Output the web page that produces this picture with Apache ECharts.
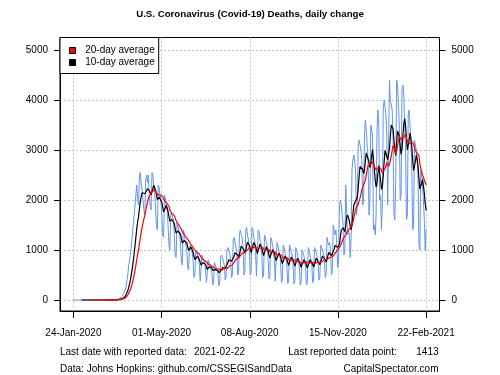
<!DOCTYPE html>
<html>
<head>
<meta charset="UTF-8">
<title>U.S. Coronavirus (Covid-19) Deaths, daily change</title>
<script src="https://cdn.jsdelivr.net/npm/echarts@6/dist/echarts.min.js"></script>
<style>
  html, body { margin: 0; padding: 0; background: #fff; }
  #chart { width: 500px; height: 375px; }
</style>
</head>
<body>
<div id="chart"></div>
<script>
// daily change in deaths, one value per day from 24-Jan-2020 (a Friday) to 22-Feb-2021
// one row per week, Fri..Thu
var deaths = [
  0, 0, 0, 0, 0, 0, 0,
  0, 0, 0, 0, 0, 0, 0,
  0, 0, 0, 0, 0, 0, 0,
  0, 0, 0, 0, 0, 0, 0,
  0, 0, 0, 0, 0, 0, 0,
  0, 1, 1, 4, 1, 4, 1,
  2, 3, 4, 4, 6, 8, 7,
  10, 15, 20, 30, 45, 65, 90,
  120, 160, 200, 280, 380, 520, 700,
  800, 950, 1100, 1300, 1500, 1700, 1900,
  2100, 2300, 2000, 1900, 2500, 2550, 2300,
  2200, 2000, 1800, 1700, 2400, 2500, 2350,
  2500, 2100, 1900, 1800, 2550, 2500, 2300,
  2200, 1800, 1500, 1400, 2300, 2250, 2100,
  2000, 1700, 1300, 1250, 2100, 2050, 1900,
  1800, 1500, 1100, 1000, 1700, 1750, 1650,
  1600, 1300, 900, 850, 1550, 1500, 1400,
  1300, 1100, 750, 700, 1400, 1350, 1200,
  1200, 1000, 650, 600, 1050, 1100, 1000,
  950, 800, 450, 500, 1000, 1000, 900,
  850, 700, 380, 400, 900, 850, 800,
  750, 600, 350, 380, 800, 800, 700,
  700, 550, 300, 350, 750, 750, 650,
  600, 500, 280, 380, 850, 900, 850,
  850, 700, 400, 450, 1000, 1050, 1000,
  1000, 850, 450, 500, 1200, 1250, 1150,
  1150, 950, 500, 550, 1350, 1400, 1300,
  1250, 1050, 500, 550, 1400, 1450, 1300,
  1200, 1000, 500, 550, 1450, 1400, 1250,
  1200, 950, 480, 520, 1400, 1350, 1200,
  1150, 900, 450, 500, 1300, 1250, 1150,
  1100, 850, 420, 470, 1250, 1200, 1100,
  1000, 800, 380, 400, 1150, 1100, 1000,
  950, 750, 350, 400, 1100, 1050, 950,
  950, 700, 330, 380, 1100, 1050, 950,
  900, 700, 320, 370, 1050, 1000, 900,
  900, 650, 300, 350, 1000, 1000, 900,
  900, 650, 300, 350, 1050, 1000, 900,
  900, 700, 350, 400, 1050, 1050, 950,
  950, 750, 400, 450, 1100, 1100, 1000,
  1000, 850, 450, 500, 1250, 1150, 1100,
  1150, 950, 500, 600, 1500, 1400, 1300,
  1400, 1100, 650, 800, 1900, 2000, 1900,
  1900, 1500, 900, 1000, 2300, 2300, 1300,
  1400, 1300, 850, 1200, 2600, 2800, 2900,
  2800, 2600, 1700, 1900, 3100, 3200, 3100,
  3000, 2800, 1900, 2000, 3300, 3600, 3400,
  3100, 2800, 1700, 1900, 3500, 3500, 3300,
  1400, 1500, 1300, 1700, 3400, 3800, 3500,
  2000, 2100, 1400, 1900, 3800, 4000, 4000,
  3700, 3300, 1900, 1900, 4400, 4000, 4000,
  3800, 3200, 1700, 1600, 2400, 4400, 4300,
  3900, 3500, 2000, 2100, 4200, 4300, 4100,
  3500, 3000, 1600, 1700, 3700, 3800, 3500,
  3100, 2600, 1400, 1500, 3200, 3200, 3000,
  2800, 2400, 1100, 1000, 2600, 2500, 2300,
  2000, 1600, 1000, 1413
];

var tickDays = [0, 98.75, 197.5, 296.25, 395];
var tickLabels = ['24-Jan-2020', '01-May-2020', '08-Aug-2020', '15-Nov-2020', '22-Feb-2021'];
var yTicks = [0, 1000, 2000, 3000, 4000, 5000];
var lastDate = '2021-02-22';

var FONT = 'Liberation Sans';

// trailing moving average
function rolling(arr, n) {
  var out = [];
  for (var i = n - 1; i < arr.length; i++) {
    var s = 0;
    for (var j = i - n + 1; j <= i; j++) s += arr[j];
    out.push([i, s / n]);
  }
  return out;
}

var daily = deaths.map(function (v, i) { return [i, v]; });
var avg20 = rolling(deaths, 20);
var avg10 = rolling(deaths, 10);

function yAxisCfg(pos) {
  return {
    type: 'value',
    position: pos,
    min: -220,
    max: 5250,
    axisLine: { show: true, onZero: false, lineStyle: { color: '#000', width: 1 } },
    axisTick: { show: true, length: 6, customValues: yTicks, lineStyle: { color: '#000' } },
    axisLabel: {
      customValues: yTicks, margin: 12, color: '#000',
      fontFamily: FONT, fontSize: 10,
      formatter: function (v) { return String(v); }
    },
    splitLine: {
      show: pos === 'left',
      lineStyle: { color: '#c4c4c4', type: [2, 2], width: 1 }
    }
  };
}

var chart = echarts.init(document.getElementById('chart'));

var option = {
  animation: false,
  backgroundColor: '#fff',
  title: {
    text: 'U.S. Coronavirus (Covid-19) Deaths, daily change',
    left: 'center',
    top: 4,
    textStyle: { fontFamily: FONT, fontSize: 9.7, fontWeight: 'bold', color: '#000' }
  },
  grid: {
    left: 60, right: 60.5, top: 37.5, bottom: 64,
    show: true, borderColor: '#000', borderWidth: 1, backgroundColor: 'transparent'
  },
  legend: {
    orient: 'vertical',
    left: 60, top: 37.5,
    backgroundColor: '#fff',
    borderColor: '#000', borderWidth: 1, borderRadius: 0,
    padding: [7, 4, 5, 9],
    itemWidth: 6, itemHeight: 6, itemGap: 0,
    textStyle: { fontFamily: FONT, fontSize: 10, color: '#000', lineHeight: 12, padding: [0, 0, 0, 4.7] },
    data: [
      { name: '20-day average', icon: 'rect', itemStyle: { color: '#ff0000', borderColor: '#000', borderWidth: 1 } },
      { name: '10-day average', icon: 'rect', itemStyle: { color: '#000000', borderColor: '#000', borderWidth: 1 } }
    ]
  },
  xAxis: {
    type: 'value',
    min: -15, max: 410,
    axisLine: { show: true, onZero: false, lineStyle: { color: '#000', width: 1 } },
    axisTick: { show: true, length: 7, customValues: tickDays, lineStyle: { color: '#000' } },
    axisLabel: {
      customValues: tickDays, margin: 17, color: '#000',
      fontFamily: FONT, fontSize: 10,
      formatter: function (v) {
        for (var i = 0; i < tickDays.length; i++) {
          if (Math.abs(tickDays[i] - v) < 0.01) return tickLabels[i];
        }
        return '';
      }
    },
    splitLine: { show: true, lineStyle: { color: '#c4c4c4', type: [2, 2], width: 1 } }
  },
  yAxis: [yAxisCfg('left'), yAxisCfg('right')],
  series: [
    {
      name: 'daily', type: 'line', data: daily, symbol: 'none', z: 2,
      lineStyle: { color: '#6495ED', width: 1 }
    },
    {
      name: '10-day average', type: 'line', data: avg10, symbol: 'none', z: 3,
      itemStyle: { color: '#000000' },
      lineStyle: { color: '#000000', width: 1.2 }
    },
    {
      name: '20-day average', type: 'line', data: avg20, symbol: 'none', z: 4,
      itemStyle: { color: '#ff0000' },
      lineStyle: { color: '#ff0000', width: 1.2 }
    }
  ],
  graphic: [
    { type: 'text', x: 60, y: 352.5, style: { text: 'Last date with reported data:', font: '10px "' + FONT + '"', fill: '#000', verticalAlign: 'middle' } },
    { type: 'text', x: 194, y: 352.5, style: { text: lastDate, font: '10px "' + FONT + '"', fill: '#000', verticalAlign: 'middle' } },
    { type: 'text', x: 288.3, y: 352.5, style: { text: 'Last reported data point:', font: '10px "' + FONT + '"', fill: '#000', verticalAlign: 'middle' } },
    { type: 'text', x: 438.5, y: 352.5, style: { text: String(deaths[deaths.length - 1]), font: '10px "' + FONT + '"', fill: '#000', align: 'right', verticalAlign: 'middle' } },
    { type: 'text', x: 60, y: 369.5, style: { text: 'Data: Johns Hopkins: github.com/CSSEGISandData', font: '10px "' + FONT + '"', fill: '#000', verticalAlign: 'middle' } },
    { type: 'text', x: 438.5, y: 369.5, style: { text: 'CapitalSpectator.com', font: '10px "' + FONT + '"', fill: '#000', align: 'right', verticalAlign: 'middle' } }
  ]
};

chart.setOption(option);
</script>
</body>
</html>
